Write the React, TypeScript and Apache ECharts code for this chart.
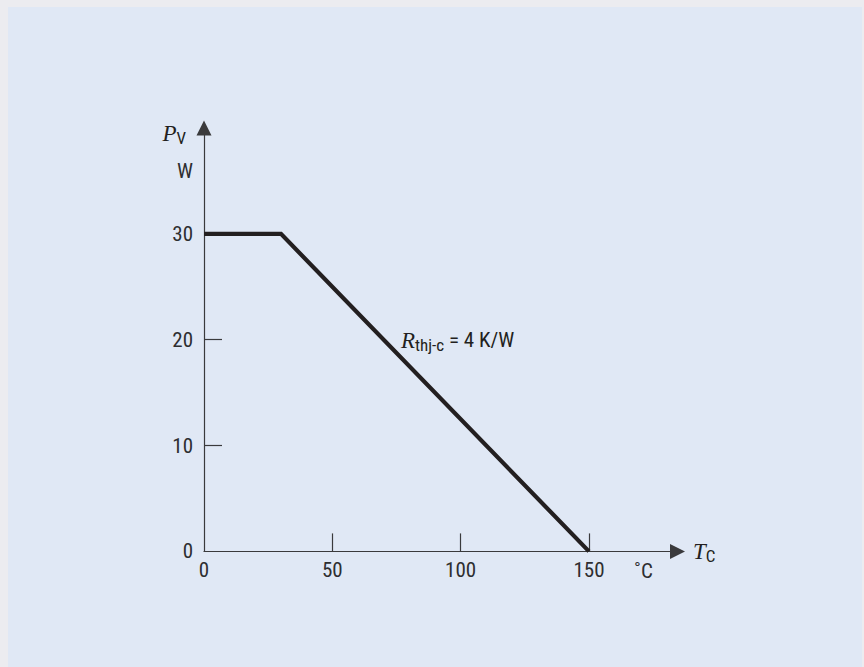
import React, { useEffect, useRef } from "react";
import * as echarts from "echarts";

const tempC = [0, 30, 150];
const powerW = [30, 30, 0];
const xTickValues = [50, 100, 150];
const xLabelValues = [0, 50, 100, 150];
const yTickValues = [10, 20, 30];
const yLabelValues = [0, 10, 20, 30];

const SANS = "'Roboto Condensed', 'Liberation Sans', Arial, sans-serif";
const SERIF = "'Liberation Serif', 'Times New Roman', serif";
const INK = "#231f20";
const AXIS = "#3a3a3c";
const LABEL = "#2e2e30";

export default function App() {
  const ref = useRef<HTMLDivElement>(null);
  useEffect(() => {
    if (!ref.current) return;
    const chart = echarts.init(ref.current, undefined, { renderer: "svg" });
    const data = tempC.map((t, i) => [t, powerW[i]]);
    chart.setOption({
      animation: false,
      backgroundColor: "transparent",
      grid: { left: 204, right: 186.5, top: 128, bottom: 115.6, containLabel: false },
      xAxis: {
        type: "value",
        min: 0,
        max: 184.5,
        interval: 50,
        splitLine: { show: false },
        axisLine: {
          lineStyle: { color: AXIS, width: 1.2 },
          symbol: ["none", "triangle"],
          symbolSize: [15, 15],
        },
        axisTick: { inside: true, length: 18, lineStyle: { color: AXIS, width: 1.2 }, customValues: xTickValues },
        axisLabel: { customValues: xLabelValues, margin: 8, fontSize: 21, fontFamily: SANS, color: LABEL },
      },
      yAxis: {
        type: "value",
        min: 0,
        max: 40,
        interval: 10,
        splitLine: { show: false },
        axisLine: {
          lineStyle: { color: AXIS, width: 1.2 },
          symbol: ["none", "triangle"],
          symbolSize: [15, 15],
        },
        axisTick: { inside: true, length: 18, lineStyle: { color: AXIS, width: 1.2 }, customValues: yTickValues },
        axisLabel: { customValues: yLabelValues, margin: 11, fontSize: 21, fontFamily: SANS, color: LABEL, padding: [5, 0, 0, 0] },
      },
      series: [
        {
          type: "line",
          data,
          symbol: "none",
          lineStyle: { color: INK, width: 4.2, join: "miter" },
          z: 3,
        },
      ],
      graphic: [
        {
          type: "text",
          x: 186,
          y: 146,
          style: {
            text: "{p|P}{s|V}",
            align: "right",
            verticalAlign: "bottom",
            rich: {
              p: { fontFamily: SERIF, fontStyle: "italic", fontSize: 23, fill: INK },
              s: { fontFamily: SANS, fontSize: 17, fill: INK, padding: [9, 0, 0, 0] },
            },
          },
        },
        {
          type: "text",
          x: 193,
          y: 171,
          style: { text: "W", align: "right", verticalAlign: "middle", fontFamily: SANS, fontSize: 21, fill: LABEL },
        },
        {
          type: "text",
          x: 693,
          y: 564,
          style: {
            text: "{p|T}{s|C}",
            align: "left",
            verticalAlign: "bottom",
            rich: {
              p: { fontFamily: SERIF, fontStyle: "italic", fontSize: 23, fill: INK },
              s: { fontFamily: SANS, fontSize: 17, fill: INK, padding: [9, 0, 0, 0] },
            },
          },
        },
        {
          type: "text",
          x: 634,
          y: 571,
          style: { text: "˚C", align: "left", verticalAlign: "middle", fontFamily: SANS, fontSize: 21, fill: LABEL },
        },
        {
          type: "text",
          x: 401,
          y: 353,
          style: {
            text: "{r|R}{s|thj-c}{e| = 4 K/W}",
            align: "left",
            verticalAlign: "bottom",
            rich: {
              r: { fontFamily: SERIF, fontStyle: "italic", fontSize: 23, fill: INK },
              s: { fontFamily: SANS, fontSize: 17, fill: INK, padding: [9, 0, 0, 0] },
              e: { fontFamily: SANS, fontSize: 21, fill: INK },
            },
          },
        },
      ],
    });
    return () => chart.dispose();
  }, []);

  return (
    <div style={{ position: "fixed", left: 0, top: 0, width: 864, height: 667, background: "#ececf0", overflow: "hidden" }}>
      <div style={{ position: "absolute", left: 8, top: 7, width: 854, height: 660, background: "#e0e8f5" }} />
      <div ref={ref} style={{ position: "absolute", left: 0, top: 0, width: 864, height: 667 }} />
    </div>
  );
}
